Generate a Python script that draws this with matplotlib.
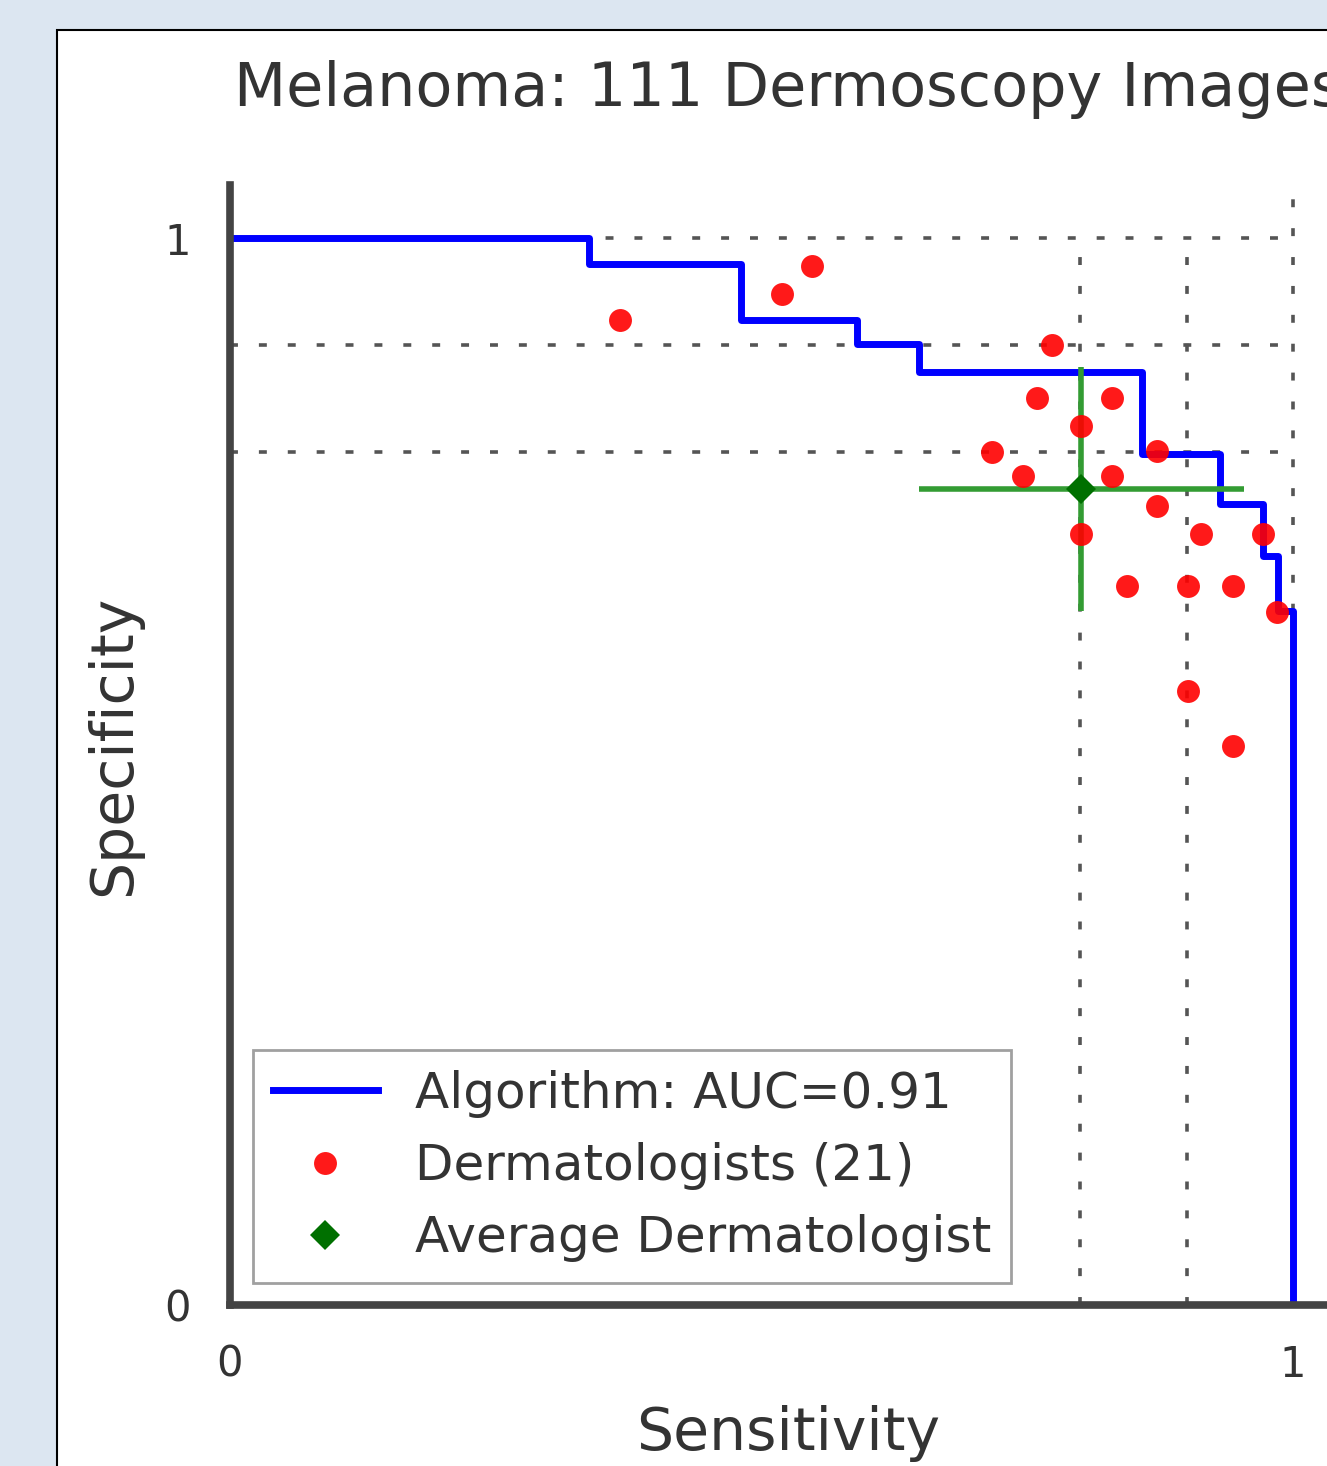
import matplotlib
matplotlib.use("Agg")
import matplotlib.pyplot as plt
from matplotlib.patches import Rectangle

# ROC curve of the algorithm (step points)
algo_sens = [0.0, 0.338, 0.481, 0.590, 0.648, 0.858, 0.931, 0.972, 0.986, 1.0]
algo_spec = [1.0, 0.976, 0.923, 0.901, 0.875, 0.798, 0.751, 0.702, 0.651, 0.0]

# 21 dermatologists
derm_sens = [0.367, 0.519, 0.548, 0.773, 0.759, 0.830, 0.801, 0.717, 0.746, 0.830, 0.872,
             0.872, 0.801, 0.914, 0.972, 0.844, 0.901, 0.944, 0.985, 0.901, 0.944]
derm_spec = [0.923, 0.948, 0.974, 0.900, 0.850, 0.850, 0.824, 0.800, 0.777, 0.777, 0.801,
             0.749, 0.723, 0.723, 0.723, 0.674, 0.674, 0.674, 0.650, 0.576, 0.524]

# average dermatologist with spread
avg_sens, avg_spec = 0.801, 0.765
avg_sens_err, avg_spec_err = 0.153, 0.114

grid_vals = [0.8, 0.9, 1.0]

fig = plt.figure(figsize=(13.27, 14.66), dpi=100)
fig.patch.set_facecolor('#dce6f1')

# white slide panel
fig.patches.append(Rectangle((57 / 1327, -0.1), 1.2, (1466 - 30) / 1466 + 0.1,
                             transform=fig.transFigure, facecolor='white',
                             edgecolor='black', linewidth=1.5, zorder=-10))

ax = fig.add_axes([230 / 1327, (1466 - 1305) / 1466, 1116 / 1327, 1120 / 1466])
ax.set_facecolor('none')
ax.set_xlim(0, 1.05)
ax.set_ylim(0, 1.05)

dot = dict(color='#555555', linewidth=2.6, linestyle=(0, (2.2, 5.8)), zorder=1)
for v in grid_vals:
    ax.plot([0, 1], [v, v], **dot)
for v in grid_vals[:-1]:
    ax.plot([v, v], [0, 1], **dot)
ax.axvline(1.0, **dot)

ax.plot(algo_sens, algo_spec, drawstyle='steps-post', color='#0000ff', linewidth=5,
        label='Algorithm: AUC=0.91', zorder=2)
ax.errorbar([avg_sens], [avg_spec], xerr=avg_sens_err, yerr=avg_spec_err,
            fmt='none', ecolor='#339c33', elinewidth=4, capsize=0, zorder=3)
ax.plot(derm_sens, derm_spec, 'o', color='#ff0000', markersize=16.5, markeredgewidth=0,
        alpha=0.9, label='Dermatologists (21)', zorder=4)
ax.plot([avg_sens], [avg_spec], 'D', color='#007000', markersize=15, markeredgewidth=0,
        label='Average Dermatologist', zorder=5)

for s in ['top', 'right']:
    ax.spines[s].set_visible(False)
for s in ['left', 'bottom']:
    ax.spines[s].set_linewidth(5.5)
    ax.spines[s].set_color('#444444')

ax.set_xticks([0, 1])
ax.set_yticks([0, 1])
ax.set_xticklabels(['0', '1'])
ax.set_yticklabels(['0', '1'])
ax.tick_params(length=0, labelsize=30, labelcolor='#333333', pad=28)

ax.set_xlabel('Sensitivity', fontsize=42, color='#333333', labelpad=14)
ax.set_ylabel('Specificity', fontsize=42, color='#333333', labelpad=16)
ax.set_title('Melanoma: 111 Dermoscopy Images', fontsize=43.6, color='#333333', pad=57)

leg = ax.legend(loc='lower left', fontsize=36, frameon=True, fancybox=False,
                borderaxespad=0.45, handlelength=2.1, handletextpad=0.75,
                labelspacing=0.49, borderpad=0.4, numpoints=1)
leg.get_frame().set_edgecolor('#888888')
leg.get_frame().set_linewidth(2)
for t in leg.get_texts():
    t.set_color('#333333')

fig.savefig('out.png', dpi=100)
